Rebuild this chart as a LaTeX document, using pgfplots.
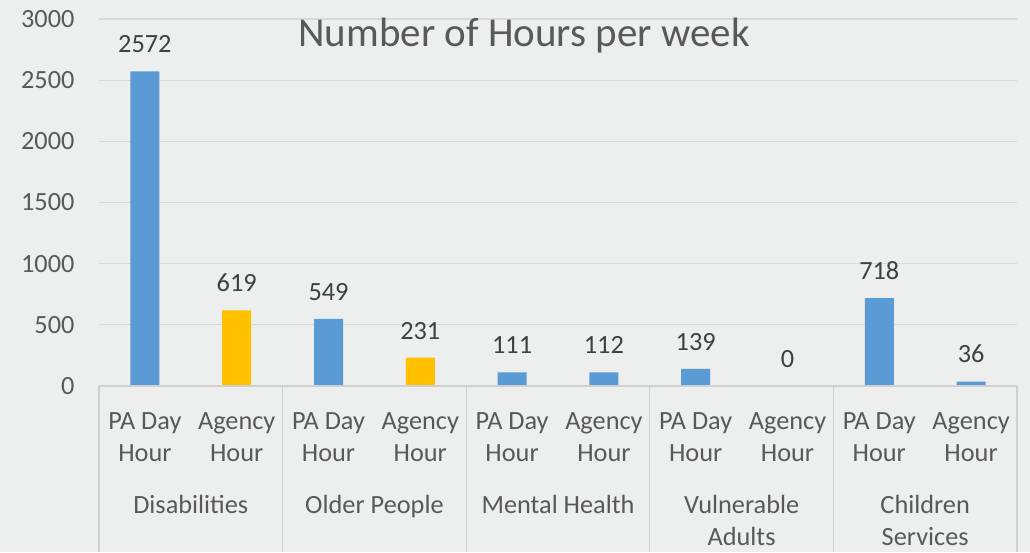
\documentclass[border=0pt]{standalone}
\usepackage{pgfplots}
\pgfplotsset{compat=1.18}
\usepackage{fontspec}
\setmainfont{Carlito}
\definecolor{bg}{HTML}{EDEEEE}
\definecolor{gridc}{HTML}{D9D9D9}
\definecolor{axc}{HTML}{D0D0D0}
\definecolor{txt}{HTML}{595959}
\definecolor{lbl}{HTML}{404040}
\definecolor{blueb}{HTML}{5B9BD5}
\definecolor{yellowb}{HTML}{FFC000}
\newcommand{\tf}{\fontsize{26.3}{32}\selectfont}
\begin{document}
\begin{tikzpicture}
\useasboundingbox (0,0) rectangle (1030pt,552pt);
\fill[bg] (0,0) rectangle (1030pt,552pt);
\begin{axis}[
  at={(99pt,166pt)}, anchor=south west,
  scale only axis, width=918pt, height=367pt,
  xmin=-0.5, xmax=9.5, ymin=0, ymax=3000,
  ytick={0,500,...,3000},
  xtick={0,...,9},
  xticklabels={{PA Day\\Hour},{Agency\\Hour},{PA Day\\Hour},{Agency\\Hour},{PA Day\\Hour},{Agency\\Hour},{PA Day\\Hour},{Agency\\Hour},{PA Day\\Hour},{Agency\\Hour}},
  xticklabel style={align=center, font=\tf, text=txt, yshift=-23pt},
  yticklabel style={font=\tf, text=txt, xshift=-21pt},
  /pgf/number format/assume math mode=true,
  /pgf/number format/1000 sep={},
  major tick length=0pt,
  ymajorgrids, grid style={gridc, line width=1.3pt},
  axis line style={draw=none},
  clip=false,
  ybar, bar width=29pt,
  nodes near coords,
  every node near coord/.append style={font=\tf, text=lbl, yshift=15pt},
]
\addplot[fill=blueb, draw=none, bar shift=0pt] coordinates {(0,2572) (2,549) (4,111) (5,112) (6,139) (7,0) (8,718) (9,36)};
\addplot[fill=yellowb, draw=none, bar shift=0pt] coordinates {(1,619) (3,231)};
\draw[axc, line width=1.3pt] (axis cs:-0.5,0) -- (axis cs:9.5,0);
\draw[axc, line width=1.3pt] (axis cs:-0.5,0) -- ([yshift=-166pt]axis cs:-0.5,0);
\draw[axc, line width=1.3pt] (axis cs:1.5,0) -- ([yshift=-166pt]axis cs:1.5,0);
\draw[axc, line width=1.3pt] (axis cs:3.5,0) -- ([yshift=-166pt]axis cs:3.5,0);
\draw[axc, line width=1.3pt] (axis cs:5.5,0) -- ([yshift=-166pt]axis cs:5.5,0);
\draw[axc, line width=1.3pt] (axis cs:7.5,0) -- ([yshift=-166pt]axis cs:7.5,0);
\draw[axc, line width=1.3pt] (axis cs:9.5,0) -- ([yshift=-166pt]axis cs:9.5,0);
\node[anchor=base, font=\tf, text=txt] at ([yshift=-127pt]axis cs:0.5,0) {Disabilities};
\node[anchor=base, font=\tf, text=txt] at ([yshift=-127pt]axis cs:2.5,0) {Older People};
\node[anchor=base, font=\tf, text=txt] at ([yshift=-127pt]axis cs:4.5,0) {Mental Health};
\node[anchor=base, font=\tf, text=txt] at ([yshift=-127pt]axis cs:6.5,0) {Vulnerable};
\node[anchor=base, font=\tf, text=txt] at ([yshift=-159pt]axis cs:6.5,0) {Adults};
\node[anchor=base, font=\tf, text=txt] at ([yshift=-127pt]axis cs:8.5,0) {Children};
\node[anchor=base, font=\tf, text=txt] at ([yshift=-159pt]axis cs:8.5,0) {Services};
\node[font=\fontsize{41}{48}\selectfont, text=txt] at (rel axis cs:0.463,0.956) {Number of Hours per week};
\end{axis}
\end{tikzpicture}
\end{document}
